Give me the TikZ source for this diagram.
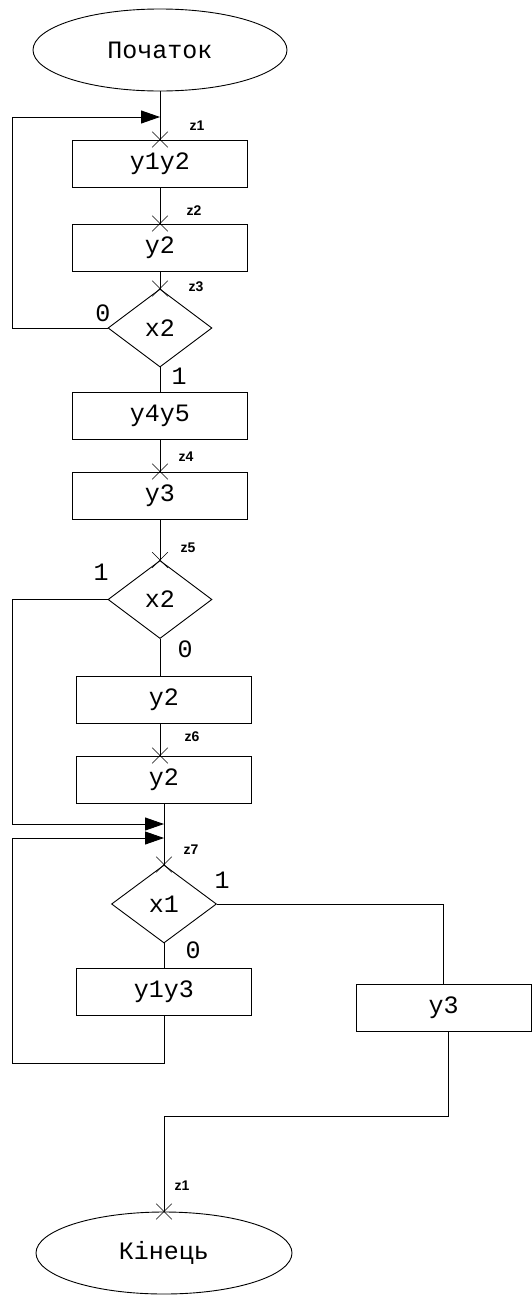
\documentclass[tikz,border=0pt]{standalone}
\usepackage{fontspec}
\newfontfamily\monof{Liberation Mono}
\newfontfamily\labf{Liberation Sans}
\usetikzlibrary{shapes.geometric,shapes.misc,arrows.meta}
\begin{document}
\begin{tikzpicture}[x=1pt,y=-1pt,line width=0.9pt,
  box/.style={draw,rectangle,minimum width=175pt,minimum height=47pt,inner sep=0pt,font=\monof\fontsize{25}{25}\selectfont},
  dec/.style={draw,diamond,minimum width=104pt,minimum height=78pt,inner sep=0pt,font=\monof\fontsize{25}{25}\selectfont},
  term/.style={draw,ellipse,minimum width=254pt,minimum height=82pt,inner sep=0pt,font=\monof\fontsize{25}{25}\selectfont},
  zl/.style={font=\labf\bfseries\fontsize{14}{14}\selectfont,inner sep=0pt},
  bit/.style={font=\monof\fontsize{25}{25}\selectfont,inner sep=0pt},
  xm/.style={draw,cross out,minimum size=15pt,inner sep=0pt,line width=0.6pt},
  arr/.style={-{Triangle[length=19pt,width=13pt]}}
]
\fill[white] (0,0) rectangle (532,1296);
\useasboundingbox (0,0) rectangle (532,1296);

% nodes
\node[term] (start) at (160,50) {Початок};
\node[box] (b1) at (160,163.5) {y1y2};
\node[box] (b2) at (160,247.5) {y2};
\node[dec] (d1) at (160,328) {x2};
\node[box] (b3) at (160,415.5) {y4y5};
\node[box] (b4) at (160,495.5) {y3};
\node[dec] (d2) at (160,599.5) {x2};
\node[box] (b5) at (164,699.5) {y2};
\node[box] (b6) at (164,779.5) {y2};
\node[dec,minimum width=105pt] (d3) at (164,904) {x1};
\node[box] (b7) at (164,991.5) {y1y3};
\node[box] (b8) at (443.5,1007.5) {y3};
\node[term,minimum width=256pt] (end) at (164,1253) {Кінець};

% junction coordinates
\coordinate (j1) at (160,117);
\coordinate (l1) at (12,117);
\coordinate (j2) at (164,824);
\coordinate (l2) at (12,824);
\coordinate (j3) at (164,838);
\coordinate (l3) at (12,1063);
\coordinate (k1) at (448,1116);

% connectors
\draw (start) -- (b1);
\draw[arr] (d1.west) -| (l1) -- (j1);
\draw (b1) -- (b2);
\draw (b2) -- (d1);
\draw (d1) -- (b3);
\draw (b3) -- (b4);
\draw (b4) -- (d2);
\draw (d2.south) -- (d2.south |- b5.north);
\draw (d2.south |- b5.south) -- (d2.south |- b6.north);
\draw (b6) -- (d3);
\draw[arr] (d2.west) -| (l2) -- (j2);
\draw (d3) -- (b7);
\draw[arr] (b7.south) |- (l3) |- (j3);
\draw (d3.east) -| (b8.north);
\draw (b8.south -| k1) -- (k1) -| (end.north);

% cross marks
\node[xm] (c1) at (b1.north) {};
\node[xm] (c2) at (b2.north) {};
\node[xm] (c3) at (d1.north) {};
\node[xm] (c4) at (b4.north) {};
\node[xm] (c5) at (d2.north) {};
\node[xm] (c6) at (d2.south |- b6.north) {};
\node[xm] (c7) at (d3.north) {};
\node[xm] (c8) at (end.north) {};

% state labels
\node[zl] (z1) at (197,126) {z1};
\node[zl] (z2) at (194,211) {z2};
\node[zl] (z3) at (196,287) {z3};
\node[zl] (z4) at (186,457) {z4};
\node[zl] (z5) at (188,548) {z5};
\node[zl] (z6) at (192,737) {z6};
\node[zl] (z7) at (191,850) {z7};
\node[zl] (z8) at (182,1186) {z1};

% branch labels
\node[bit] (o1) at (103,313) {0};
\node[bit] (i1) at (179,376) {1};
\node[bit] (i2) at (101,572) {1};
\node[bit] (o2) at (185,649) {0};
\node[bit] (i3) at (222,880) {1};
\node[bit] (o3) at (193,950) {0};
\end{tikzpicture}
\end{document}
